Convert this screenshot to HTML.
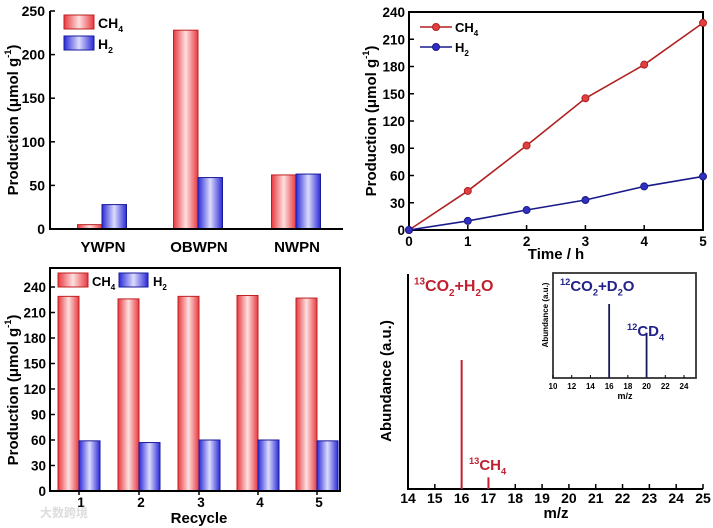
<!DOCTYPE html>
<html><head><meta charset="utf-8"><style>
html,body{margin:0;padding:0;background:#fff}
svg{display:block;font-family:"Liberation Sans",Arial,sans-serif;font-weight:bold}
</style></head><body>
<svg id="s" width="713" height="528" viewBox="0 0 713 528" xmlns="http://www.w3.org/2000/svg">
<defs>
<linearGradient id="gr" x1="0" x2="1"><stop offset="0" stop-color="#e8393f"/><stop offset="0.5" stop-color="#fde0e0"/><stop offset="1" stop-color="#e8393f"/></linearGradient>
<linearGradient id="gb" x1="0" x2="1"><stop offset="0" stop-color="#2a2ad8"/><stop offset="0.5" stop-color="#dcdcfc"/><stop offset="1" stop-color="#2a2ad8"/></linearGradient>
</defs>
<g id="pa"></g>
<g id="pb"></g>
<g id="pc"></g>
<g id="pd"></g>
</svg>
<script>
// Panel A data
const aCats=["YWPN","OBWPN","NWPN"];
const aCH4=[5,228,62];
const aH2=[28,59,63];
const aTicks=[0,50,100,150,200,250];
// Panel B data
const bTime=[0,1,2,3,4,5];
const bCH4=[0,43,93,145,182,228];
const bH2=[0,10,22,33,48,59];
const bTicks=[0,30,60,90,120,150,180,210,240];
// Panel C data
const cCats=["1","2","3","4","5"];
const cCH4=[229,226,229,230,227];
const cH2=[59,57,60,60,59];
const cTicks=[0,30,60,90,120,150,180,210,240];
// Panel D data
const dMz=[16,17];
const dAbund=[100,9];
const dTicks=[14,15,16,17,18,19,20,21,22,23,24,25];
const iMz=[16,20];
const iAbund=[100,61];
const iTicks=[10,12,14,16,18,20,22,24];

const NS="http://www.w3.org/2000/svg";
function mk(p,tag,at,txt){const e=document.createElementNS(NS,tag);for(const k in at)e.setAttribute(k,at[k]);if(txt!=null)e.textContent=txt;p.appendChild(e);return e;}
function line(p,x1,y1,x2,y2,c,w){return mk(p,"line",{x1,y1,x2,y2,stroke:c||"#000","stroke-width":w||2});}
function txt(p,x,y,s,sz,anchor,fill){return mk(p,"text",{x,y,"font-size":sz,"text-anchor":anchor||"middle",fill:fill||"#000"},s);}
// parts: [text, kind] kind: "n" normal, "sup", "sub"
function sub(p,x,y,parts,sz,fill){
 const t=mk(p,"text",{x,y,"font-size":sz,fill:fill||"#000"});
 let off=0;
 parts.forEach(pt=>{
  const k=pt[1]||"n";
  const target=k==="sup"?-sz*0.4:k==="sub"?sz*0.3:0;
  const at={dy:target-off};
  if(k!=="n")at["font-size"]=sz*0.62;
  mk(t,"tspan",at,pt[0]);
  off=target;
 });
 return t;
}
function ylabel(p,x,y,sz){const t=mk(p,"text",{transform:`translate(${x},${y}) rotate(-90)`,"font-size":sz,"text-anchor":"middle"});mk(t,"tspan",{},"Production (μmol g");mk(t,"tspan",{"font-size":sz*0.62,dy:-7},"-1");mk(t,"tspan",{dy:7},")");return t;}

// ---- Panel A
(function(){
const g=document.getElementById("pa");
const L=50,R=343,B=229,T=11,max=250;
const y=v=>B-(v/max)*(B-T);
const cx=[103,199,297],bw=24.5;
aCats.forEach((c,i)=>{
 const r1=mk(g,"rect",{x:cx[i]-bw-1,y:y(aCH4[i]),width:bw,height:B-y(aCH4[i]),fill:"url(#gr)",stroke:"#c02020","stroke-width":1});
 
 
 const r2=mk(g,"rect",{x:cx[i]-1,y:y(aH2[i]),width:bw,height:B-y(aH2[i]),fill:"url(#gb)",stroke:"#1a1a9a","stroke-width":1});
 
 
 txt(g,cx[i],252,c,15);
});
line(g,L,T,L,B);line(g,L-1,B,R,B);
aTicks.forEach(v=>{line(g,L,y(v),L+5,y(v),"#000",1.5);txt(g,L-5,y(v)+5,String(v),14,"end");});
ylabel(g,18,120,15);
mk(g,"rect",{x:64,y:15,width:30,height:14,fill:"url(#gr)",stroke:"#c02020"});
mk(g,"rect",{x:64,y:36,width:30,height:14,fill:"url(#gb)",stroke:"#1a1a9a"});
sub(g,98,28,[["CH"],["4","sub"]],14);
sub(g,98,49,[["H"],["2","sub"]],14);
})();

// ---- Panel B
(function(){
const g=document.getElementById("pb");
const L=409,R=703,B=230,T=12;
const x=v=>L+v/5*(R-L), y=v=>B-v/240*(B-T);
mk(g,"rect",{x:L,y:T,width:R-L,height:B-T,fill:"none",stroke:"#000","stroke-width":2});
bTicks.forEach(v=>{line(g,L,y(v),L+5,y(v),"#000",1.5);txt(g,L-4,y(v)+5,String(v),13.5,"end");});
bTime.forEach(v=>{line(g,x(v),B,x(v),B-5,"#000",1.5);txt(g,x(v),246,String(v),13.5);});
txt(g,556,259,"Time / h",15);
ylabel(g,376,121,15);
[[bCH4,"#b02020","#e04040","ch4"],[bH2,"#1a1a8a","#3030c0","h2"]].forEach(s=>{
 const pl=mk(g,"polyline",{points:bTime.map((t,i)=>x(t)+","+y(s[0][i])).join(" "),fill:"none",stroke:s[1],"stroke-width":1.6});
 
 
 bTime.forEach((t,i)=>{const c=mk(g,"circle",{cx:x(t),cy:y(s[0][i]),r:3.5,fill:s[2],stroke:s[1],"stroke-width":1});
 
 });
});
line(g,420,27,452,27,"#b02020",1.6);mk(g,"circle",{cx:436,cy:27,r:3.5,fill:"#e04040",stroke:"#b02020"});
line(g,420,47,452,47,"#1a1a8a",1.6);mk(g,"circle",{cx:436,cy:47,r:3.5,fill:"#3030c0",stroke:"#1a1a8a"});
sub(g,455,32,[["CH"],["4","sub"]],13);
sub(g,455,52,[["H"],["2","sub"]],13);
})();

// ---- Panel C
(function(){
const g=document.getElementById("pc");
const L=50,R=340,B=491,T=268;
const y=v=>B-v/240*(491-287);
const cx=[79,139,199,258,317],bw=21;
cCats.forEach((c,i)=>{
 const r1=mk(g,"rect",{x:cx[i]-bw,y:y(cCH4[i]),width:bw,height:B-y(cCH4[i]),fill:"url(#gr)",stroke:"#c02020","stroke-width":1});
 
 
 const r2=mk(g,"rect",{x:cx[i],y:y(cH2[i]),width:bw,height:B-y(cH2[i]),fill:"url(#gb)",stroke:"#1a1a9a","stroke-width":1});
 
 
 line(g,cx[i],B,cx[i],B+4,"#000",1.5);
 txt(g,cx[i]+2,507,c,13.5);
});
mk(g,"rect",{x:L,y:T,width:R-L,height:B-T,fill:"none",stroke:"#000","stroke-width":2});
cTicks.forEach(v=>{line(g,L,y(v),L+5,y(v),"#000",1.5);txt(g,L-4,y(v)+5,String(v),13.5,"end");});
txt(g,199,523,"Recycle",15);
ylabel(g,18,390,15);
mk(g,"rect",{x:58,y:273,width:30,height:14,fill:"url(#gr)",stroke:"#c02020"});
mk(g,"rect",{x:119,y:273,width:29,height:14,fill:"url(#gb)",stroke:"#1a1a9a"});
sub(g,92,286,[["CH"],["4","sub"]],13);
sub(g,153,286,[["H"],["2","sub"]],13);
txt(g,40,517,"大数跨境",12,"start","#ddd").setAttribute("font-family","'Noto Sans CJK SC',sans-serif");
})();

// ---- Panel D
(function(){
const g=document.getElementById("pd");
const L=408,R=703,B=489,T=274;
const x=v=>L+(v-14)/11*(R-L), y=v=>B-v/100*(B-360);
line(g,L,T,L,B);line(g,L-1,B,R,B);
dTicks.forEach(v=>{line(g,x(v),B,x(v),B-5,"#000",1.5);txt(g,x(v),503,String(v),14);});
txt(g,556,518,"m/z",15);
mk(g,"text",{transform:"translate(391,381) rotate(-90)","font-size":15,"text-anchor":"middle"},"Abundance (a.u.)");
dMz.forEach((m,i)=>{const l=line(g,x(m),B,x(m),y(dAbund[i]),"#c02030",2);
 
 });
sub(g,414,291,[["13","sup"],["CO"],["2","sub"],["+H"],["2","sub"],["O"]],16,"#c02030");
sub(g,469,470,[["13","sup"],["CH"],["4","sub"]],15,"#c02030");
// inset
const iL=553,iR=696,iB=378,iT=273;
const ix=v=>iL+(v-10)/14*(684-iL), iy=v=>iB-v/100*(iB-304);
mk(g,"rect",{x:iL,y:iT,width:iR-iL,height:iB-iT,fill:"#fff",stroke:"#333","stroke-width":1.8,});
iTicks.forEach(v=>{line(g,ix(v),iB,ix(v),iB-3,"#000",1);txt(g,ix(v),389,String(v),8);});
txt(g,625,399,"m/z",9);
mk(g,"text",{transform:"translate(548,315) rotate(-90)","font-size":8,"text-anchor":"middle"},"Abundance (a.u.)");
iMz.forEach((m,i)=>{const l=line(g,ix(m),iB,ix(m),iy(iAbund[i]),"#1a1a5a",1.8);
 
 });
sub(g,560,291,[["12","sup"],["CO"],["2","sub"],["+D"],["2","sub"],["O"]],15,"#22228a");
sub(g,627,336,[["12","sup"],["CD"],["4","sub"]],15,"#22228a");
})();
</script>
</body></html>
